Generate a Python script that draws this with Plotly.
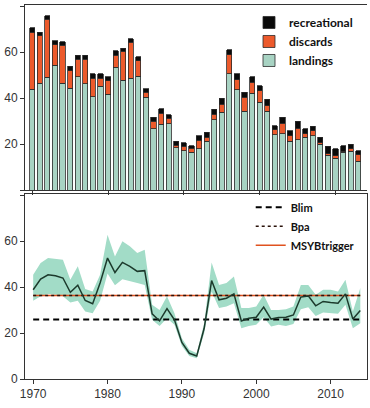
import plotly.graph_objects as go

# ---------------- data ----------------
bar_years = list(range(1970, 2014))
landings = [43.9, 46.4, 49.0, 54.2, 46.5, 44.3, 49.4, 46.2, 40.7, 45.1,
            41.7, 53.5, 47.7, 48.7, 49.6, 40.4, 26.7, 28.6, 28.8, 18.4,
            17.2, 16.4, 18.0, 21.2, 30.6, 33.8, 50.6, 43.6, 34.2, 42.2,
            38.3, 34.2, 24.1, 24.5, 21.2, 21.9, 22.9, 23.6, 20.0, 15.1,
            13.9, 16.4, 16.8, 12.5]
discards = [24.8, 20.7, 25.3, 9.1, 16.4, 7.7, 7.6, 10.8, 7.9, 3.5,
            5.8, 5.1, 12.6, 15.5, 6.6, 2.1, 3.3, 4.9, 2.4, 1.2,
            1.8, 1.9, 3.6, 1.7, 2.4, 3.6, 8.2, 4.4, 6.2, 4.8,
            5.0, 2.6, 2.1, 4.6, 2.4, 5.1, 1.6, 2.2, 0.7, 0.7,
            1.0, 0.4, 1.2, 2.9]
recreational = [1.9, 1.5, 1.6, 1.6, 1.7, 1.8, 1.6, 1.6, 2.0, 2.0,
                1.8, 2.0, 1.4, 1.6, 1.9, 1.6, 1.7, 1.9, 1.6, 1.6,
                1.7, 1.1, 2.0, 2.2, 2.2, 2.6, 2.2, 2.6, 2.2, 2.4,
                2.1, 2.8, 1.8, 2.5, 2.2, 2.9, 2.2, 1.9, 2.3, 3.2,
                3.1, 2.6, 2.0, 1.8]

ssb_years = list(range(1970, 2015))
ssb = [38.9, 43.5, 45.4, 45.0, 44.0, 37.8, 40.9, 34.2, 32.8, 41.8,
       52.7, 46.4, 50.8, 49.1, 46.9, 47.2, 28.4, 25.3, 30.7, 25.8,
       15.9, 11.2, 10.0, 22.1, 42.9, 34.5, 35.2, 37.1, 25.3, 26.5,
       26.9, 31.3, 26.1, 26.8, 26.9, 27.9, 35.7, 36.2, 31.9, 33.8,
       33.3, 33.0, 37.1, 26.1, 29.8]
ssb_high = [45.4, 50.5, 52.7, 52.3, 52.0, 43.2, 49.1, 39.2, 38.1, 45.4,
            62.9, 53.4, 60.0, 57.8, 54.9, 56.3, 32.3, 30.1, 36.0, 28.7,
            17.8, 12.7, 11.2, 24.3, 50.8, 41.0, 41.8, 44.7, 30.9, 30.9,
            31.6, 36.7, 30.1, 30.1, 30.4, 31.6, 41.0, 41.0, 36.7, 38.9,
            38.9, 38.1, 43.2, 29.4, 39.6]
ssb_low = [34.1, 36.0, 37.0, 36.7, 36.0, 33.3, 34.1, 29.4, 28.7, 34.1,
           46.0, 40.8, 43.5, 42.5, 41.8, 41.0, 25.8, 23.1, 26.5, 23.6,
           14.4, 10.0, 9.0, 19.9, 38.1, 30.9, 31.6, 33.0, 22.1, 23.1,
           23.6, 26.9, 22.9, 23.6, 23.1, 24.0, 30.4, 31.3, 27.5, 29.0,
           28.7, 28.4, 32.3, 22.1, 24.3]

blim = 25.9
bpa = 36.4
msy_btrigger = 36.4

x_tick_vals = [1970, 1980, 1990, 2000, 2010]
y_tick_vals = [0, 20, 40, 60, 80]
top_tick_text = ["", "20", "40", "60", ""]
bottom_tick_text = ["0", "20", "40", "60", ""]

# ---------------- figure ----------------
fig = go.Figure()

bar_line = dict(color="#2b2b2b", width=0.8)
fig.add_trace(go.Bar(x=bar_years, y=landings, name="landings",
                     marker=dict(color="#a8d3c3", line=bar_line),
                     xaxis="x", yaxis="y", legend="legend"))
fig.add_trace(go.Bar(x=bar_years, y=discards, name="discards",
                     marker=dict(color="#ec5a2c", line=bar_line),
                     xaxis="x", yaxis="y", legend="legend"))
fig.add_trace(go.Bar(x=bar_years, y=recreational, name="recreational",
                     marker=dict(color="#0a0a0a", line=bar_line),
                     xaxis="x", yaxis="y", legend="legend"))

# confidence band
fig.add_trace(go.Scatter(x=ssb_years, y=ssb_high, mode="lines",
                         line=dict(width=0, color="#a2dcc7"),
                         showlegend=False, hoverinfo="skip",
                         xaxis="x2", yaxis="y2"))
fig.add_trace(go.Scatter(x=ssb_years, y=ssb_low, mode="lines",
                         line=dict(width=0, color="#a2dcc7"),
                         fill="tonexty", fillcolor="#a2dcc7",
                         showlegend=False, hoverinfo="skip",
                         xaxis="x2", yaxis="y2"))

ref_x = [ssb_years[0], ssb_years[-1]]
fig.add_trace(go.Scatter(x=ref_x, y=[blim, blim], mode="lines", name="Blim",
                         line=dict(color="#000000", width=2, dash="6px,4px"),
                         xaxis="x2", yaxis="y2", legend="legend2",
                         legendrank=1))
fig.add_trace(go.Scatter(x=ref_x, y=[msy_btrigger, msy_btrigger], mode="lines",
                         name="MSYBtrigger",
                         line=dict(color="#e0521f", width=1.6),
                         xaxis="x2", yaxis="y2", legend="legend2",
                         legendrank=3))
fig.add_trace(go.Scatter(x=ref_x, y=[bpa, bpa], mode="lines", name="Bpa",
                         line=dict(color="#2a120a", width=1.6, dash="dot"),
                         xaxis="x2", yaxis="y2", legend="legend2",
                         legendrank=2))

fig.add_trace(go.Scatter(x=ssb_years, y=ssb, mode="lines", name="SSB",
                         line=dict(color="#1c3a2c", width=1.5),
                         showlegend=False, xaxis="x2", yaxis="y2"))

axis_common = dict(showgrid=False, zeroline=False, showline=True,
                   linecolor="#333333", linewidth=1, ticks="outside",
                   ticklen=4, tickcolor="#333333", automargin=False,
                   tickfont=dict(family="Liberation Sans, Arial", size=12,
                                 color="#333333"))

fig.update_layout(
    width=370, height=408,
    margin=dict(l=25, r=3, t=5, b=29, autoexpand=False),
    paper_bgcolor="white", plot_bgcolor="white",
    barmode="stack", bargap=0.32,
    showlegend=True,
    xaxis=dict(**axis_common, domain=[0, 1], anchor="y",
               range=[1969.05, 2014.15], tickvals=x_tick_vals,
               showticklabels=False, mirror=True),
    yaxis=dict(**axis_common, domain=[0.505, 1], anchor="x",
               range=[0, 80.5], tickvals=y_tick_vals,
               ticktext=top_tick_text),
    xaxis2=dict(**axis_common, domain=[0, 1], anchor="y2",
                range=[1968.9, 2014.9], tickvals=x_tick_vals,
                mirror=True),
    yaxis2=dict(**axis_common, domain=[0, 0.494], anchor="x2",
                range=[0, 80.5], tickvals=y_tick_vals,
                ticktext=bottom_tick_text, mirror=True),
    legend=dict(x=0.655, y=0.992, xanchor="left", yanchor="top",
                traceorder="reversed", bgcolor="rgba(255,255,255,0)",
                font=dict(family="Lato, Liberation Sans", size=12,
                          color="#111111", weight="bold"),
                itemwidth=30, tracegroupgap=0),
    legend2=dict(x=0.66, y=0.498, xanchor="left", yanchor="top",
                 bgcolor="rgba(255,255,255,0)",
                 font=dict(family="Lato, Liberation Sans", size=11,
                           color="#111111", weight="bold"),
                 itemwidth=30, tracegroupgap=0),
)

fig.write_html("out.html",
               config={"displayModeBar": False},
               post_script="document.body.style.margin='0';"
                           "document.body.style.overflow='hidden';")
